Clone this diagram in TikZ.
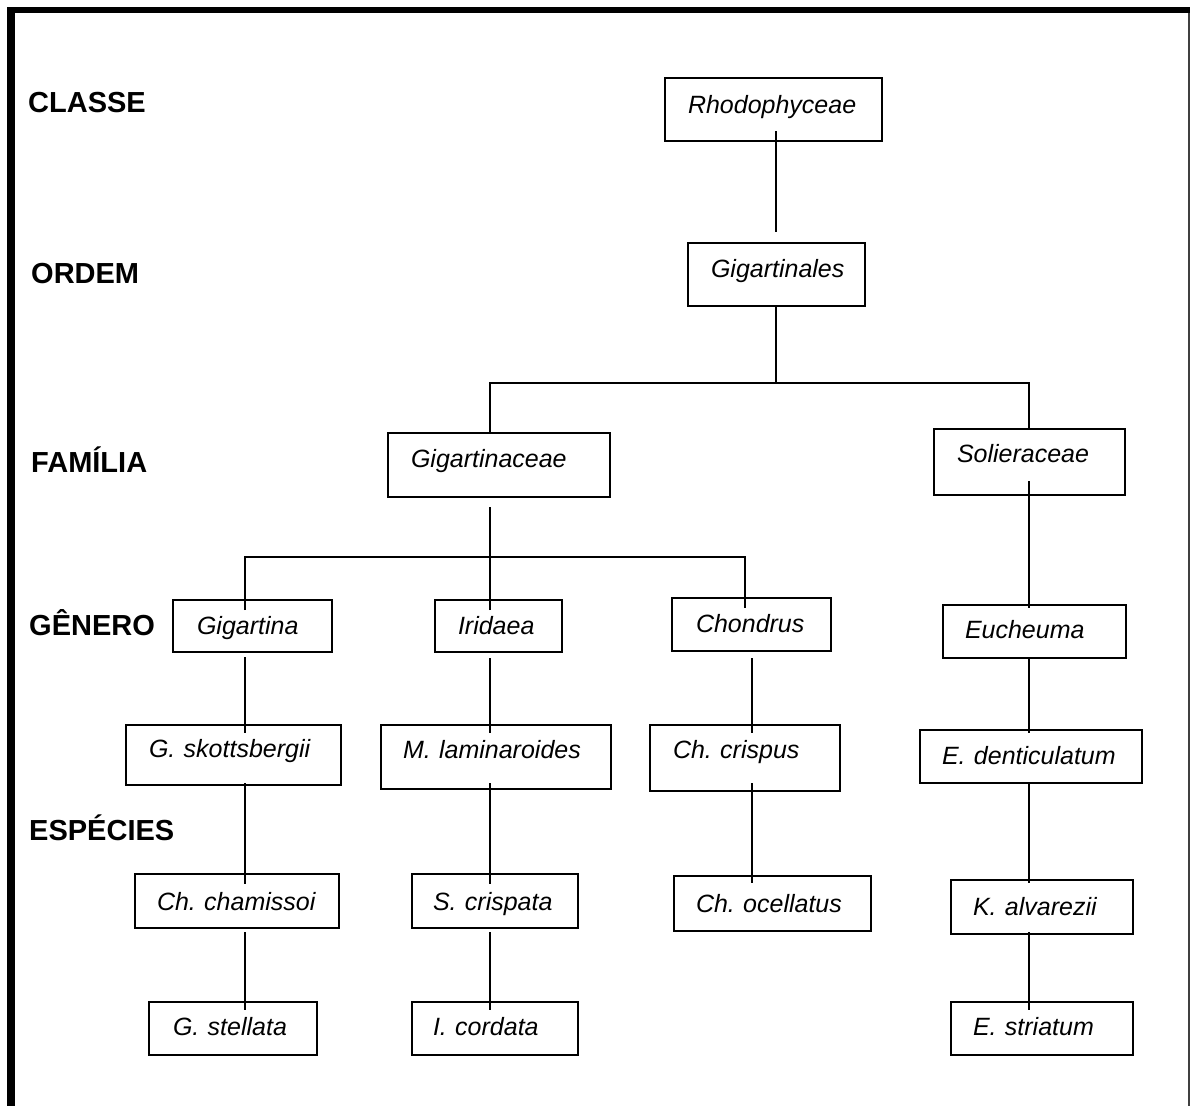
\documentclass[tikz,border=0pt]{standalone}
\usepackage{fontspec}
\setmainfont{Liberation Sans}
\tikzset{
  box/.style={draw, line width=2pt, rectangle, inner sep=0pt, outer sep=0pt, align=left,
    font=\fontsize{25}{30}\selectfont\itshape\frenchspacing},
  rank/.style={font=\fontsize{29}{34}\selectfont\bfseries, inner sep=0pt, anchor=base west},
  conn/.style={line width=2pt},
}
\newcommand\taxbox[8]{%
  \pgfmathsetmacro\tbw{#4-#2}\pgfmathsetmacro\tbh{#7-#3}%
  \pgfmathsetmacro\tbd{#5-#7}\pgfmathsetmacro\tbx{#6-#2}%
  \node[box, anchor=base west, text width=\tbw pt, text height=\tbh pt, text depth=\tbd pt]
    (#1) at (#2,#7) {\hspace*{\tbx pt}#8};}
\begin{document}
\begin{tikzpicture}[x=1pt,y=-1pt]
\useasboundingbox (0,0) rectangle (1190,1106);
% frame
\draw[line width=6pt] (7,10) -- (1190,10);
\draw[line width=8pt] (11,7) -- (11,1106);
\draw[line width=2pt, black!75] (1188.5,13) -- (1188.5,1106);
% rank labels
\node[rank] (classe) at (28,112) {CLASSE};
\node[rank] (ordem) at (31,283) {ORDEM};
\node[rank] (familia) at (31,472) {FAMÍLIA};
\node[rank] (genero) at (29,635) {GÊNERO};
\node[rank] (especies) at (29,840) {ESPÉCIES};
% boxes
\taxbox{rhodo}{665}{78}{882}{141}{688}{113}{Rhodophyceae}
\taxbox{gigo}{688}{243}{865}{306}{711}{277}{Gigartinales}
\taxbox{gigt}{388}{433}{610}{497}{411}{467}{Gigartinaceae}
\taxbox{sol}{934}{429}{1125}{495}{957}{462}{Solieraceae}
\taxbox{gigartina}{173}{600}{332}{652}{197}{634}{Gigartina}
\taxbox{iridaea}{435}{600}{562}{652}{458}{634}{Iridaea}
\taxbox{chondrus}{672}{598}{831}{651}{696}{632}{Chondrus}
\taxbox{eucheuma}{943}{605}{1126}{658}{965}{638}{Eucheuma}
\taxbox{gskott}{126}{725}{341}{785}{149}{757}{G. skottsbergii}
\taxbox{mlam}{381}{725}{611}{789}{403}{758}{M. laminaroides}
\taxbox{chcrisp}{650}{725}{840}{791}{673}{758}{Ch. crispus}
\taxbox{edent}{920}{730}{1142}{783}{942}{764}{E. denticulatum}
\taxbox{chcham}{135}{874}{339}{928}{157}{910}{Ch. chamissoi}
\taxbox{scrisp}{412}{874}{578}{928}{433}{910}{S. crispata}
\taxbox{chocell}{674}{876}{871}{931}{696}{912}{Ch. ocellatus}
\taxbox{kalv}{951}{880}{1133}{934}{973}{915}{K. alvarezii}
\taxbox{gstell}{149}{1002}{317}{1055}{173}{1035}{G. stellata}
\taxbox{icord}{412}{1002}{578}{1055}{433}{1035}{I. cordata}
\taxbox{estri}{951}{1002}{1133}{1055}{973}{1035}{E. striatum}
% helper x positions and junctions
\coordinate (xa) at (245,0);
\coordinate (xb) at (490,0);
\coordinate (xc) at (745,0);
\coordinate (xc2) at (752,0);
\coordinate (xd) at (1029,0);
\coordinate (xr) at (776,0);
\coordinate (j1) at (776,383);
\coordinate (j2) at (490,557);
% connectors
\draw[conn, shorten <=-10pt, shorten >=11pt] (rhodo.south -| xr) -- (gigo.north -| xr);
\draw[conn] (gigo.south -| xr) -- (j1);
\draw[conn] (gigt.north -| xb) |- (j1) -| (sol.north -| xd);
\draw[conn, shorten <=10pt] (gigt.south -| xb) -- (j2);
\draw[conn, shorten <=-10pt, shorten >=-10pt] (gigartina.north -| xa) |- (j2) -| (chondrus.north -| xc);
\draw[conn, shorten <=-10pt] (iridaea.north -| xb) -- (j2);
\draw[conn, shorten <=-14pt, shorten >=-3pt] (sol.south -| xd) -- (eucheuma.north -| xd);
\draw[conn, shorten <=5pt, shorten >=-8pt] (gigartina.south -| xa) -- (gskott.north -| xa);
\draw[conn, shorten <=6pt, shorten >=-8pt] (iridaea.south -| xb) -- (mlam.north -| xb);
\draw[conn, shorten <=7pt, shorten >=-8pt] (chondrus.south -| xc2) -- (chcrisp.north -| xc2);
\draw[conn, shorten >=-3pt] (eucheuma.south -| xd) -- (edent.north -| xd);
\draw[conn, shorten <=-2pt, shorten >=-10pt] (gskott.south -| xa) -- (chcham.north -| xa);
\draw[conn, shorten <=-6pt, shorten >=-10pt] (mlam.south -| xb) -- (scrisp.north -| xb);
\draw[conn, shorten <=-8pt, shorten >=-7pt] (chcrisp.south -| xc2) -- (chocell.north -| xc2);
\draw[conn, shorten >=-3pt] (edent.south -| xd) -- (kalv.north -| xd);
\draw[conn, shorten <=4pt, shorten >=-8pt] (chcham.south -| xa) -- (gstell.north -| xa);
\draw[conn, shorten <=4pt, shorten >=-8pt] (scrisp.south -| xb) -- (icord.north -| xb);
\draw[conn, shorten <=-2pt, shorten >=-8pt] (kalv.south -| xd) -- (estri.north -| xd);
\end{tikzpicture}
\end{document}
